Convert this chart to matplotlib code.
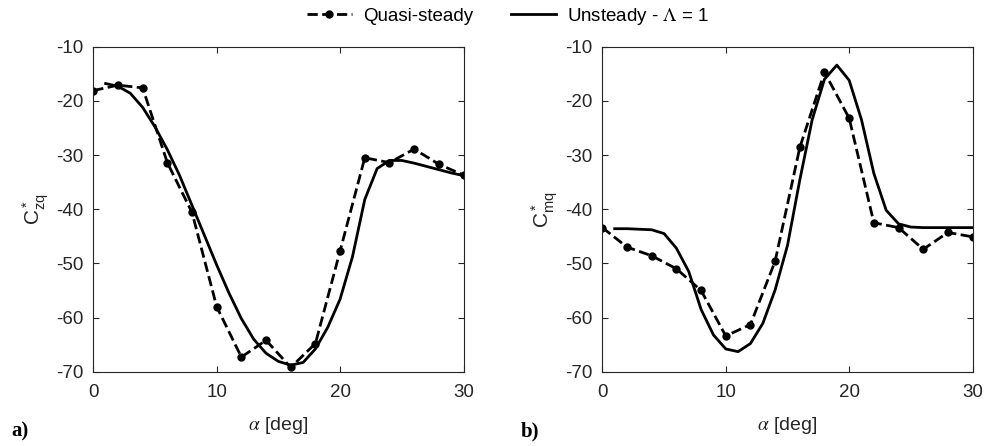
import numpy as np
import matplotlib
matplotlib.use('Agg')
import matplotlib.pyplot as plt

plt.rcParams['font.family'] = ['Liberation Sans', 'DejaVu Sans']
plt.rcParams['mathtext.fontset'] = 'stix'
plt.rcParams['axes.unicode_minus'] = False

# quasi-steady points (every 2 deg)
alpha_qs = np.arange(0, 31, 2)
czq_qs = [-18.1, -17.1, -17.6, -31.4, -40.6, -58.0, -67.3, -64.2,
          -69.2, -64.8, -47.7, -30.5, -31.4, -28.9, -31.7, -33.7]
cmq_qs = [-43.4, -47.0, -48.6, -51.0, -55.0, -63.4, -61.3, -49.6,
          -28.6, -14.7, -23.2, -42.5, -43.4, -47.4, -44.3, -45.1]

# unsteady, Lambda = 1 (every 1 deg)
alpha_us = np.arange(1, 31, 1)
czq_us = [-16.8, -17.3, -18.6, -21.2, -24.8, -29.0, -33.8, -39.3, -44.8, -50.3,
          -55.5, -60.2, -64.0, -66.6, -68.1, -68.8, -68.3, -65.8, -61.8, -56.6,
          -48.8, -38.2, -32.5, -31.0, -31.0, -31.5, -32.1, -32.7, -33.3, -33.8]
cmq_us = [-43.6, -43.6, -43.7, -43.8, -44.5, -47.2, -51.5, -58.5, -63.2, -65.8,
          -66.3, -64.8, -61.1, -54.9, -46.7, -34.6, -23.5, -16.0, -13.4, -16.2,
          -23.5, -33.4, -40.2, -42.7, -43.3, -43.4, -43.4, -43.4, -43.4, -43.4]

panels = [
    (czq_qs, czq_us, r'$\mathregular{C^*_{zq}}$', 'a)'),
    (cmq_qs, cmq_us, r'$\mathregular{C^*_{mq}}$', 'b)'),
]

dark = '#262626'
fig = plt.figure(figsize=(9.86, 4.46), dpi=100)
lefts = [0.0946, 0.6109]

for i, (qs, us, ylab, tag) in enumerate(panels):
    ax = fig.add_axes([lefts[i], 0.1666, 0.3755, 0.7287])
    l1, = ax.plot(alpha_qs, qs, '--', color='black', lw=2.0,
                  marker='o', markersize=5, label='Quasi-steady')
    l2, = ax.plot(alpha_us, us, '-', color='black', lw=2.0,
                  label=r'Unsteady - $\Lambda$ = 1')
    ax.set_xlim(0, 30)
    ax.set_ylim(-70, -10)
    ax.set_xticks([0, 10, 20, 30])
    ax.set_yticks(np.arange(-70, -9, 10))
    ax.tick_params(direction='in', top=True, right=True, length=4,
                   labelsize=13.5, colors=dark)
    ax.tick_params(axis='x', pad=9)
    ax.tick_params(axis='y', pad=7)
    for s in ax.spines.values():
        s.set_color(dark)
        s.set_linewidth(0.8)
    ax.set_xlabel(r'$\alpha$ [deg]', fontsize=14, color=dark, labelpad=10)
    ax.set_ylabel(ylab, fontsize=15, color=dark, labelpad=4)
    fig.text(lefts[i] - 0.083, 0.022, tag, fontsize=15, fontweight='bold',
             family='Liberation Serif')

fig.legend([l1, l2], ['Quasi-steady', r'Unsteady - $\Lambda$ = 1'],
           loc='upper center', bbox_to_anchor=(0.515, 1.025), ncol=2,
           frameon=False, fontsize=13.5, handlelength=2.4, columnspacing=2.0,
           handletextpad=0.6)

fig.savefig('out.png', dpi=100)
